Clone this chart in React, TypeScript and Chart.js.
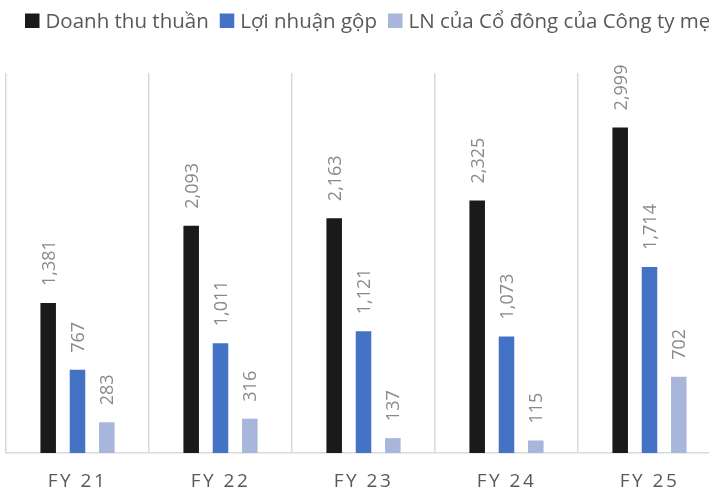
import React, { useEffect, useRef } from "react";
import { Chart, registerables } from "chart.js";

Chart.register(...registerables);

const categories = ["FY 21", "FY 22", "FY 23", "FY 24", "FY 25"];
const seriesNames = ["Doanh thu thuần", "Lợi nhuận gộp", "LN của Cổ đông của Công ty mẹ"];
const revenue = [1381, 2093, 2163, 2325, 2999];
const grossProfit = [767, 1011, 1121, 1073, 1714];
const netProfit = [283, 316, 137, 115, 702];
const seriesColors = ["#1a1a1a", "#4472C4", "#A9B6DB"];

const FONT = '"Open Sans", "Noto Sans", sans-serif';

const fmt = (v: number) => v.toLocaleString("en-US");

const customDraw = {
  id: "customDraw",
  afterDatasetsDraw(chart: any) {
    const ctx = chart.ctx;
    // data labels
    ctx.save();
    ctx.font = `18px ${FONT}`;
    ctx.fillStyle = "#8a8a8a";
    ctx.textAlign = "left";
    ctx.textBaseline = "alphabetic";
    chart.data.datasets.forEach((ds: any, di: number) => {
      const meta = chart.getDatasetMeta(di);
      meta.data.forEach((bar: any, i: number) => {
        ctx.save();
        ctx.translate(bar.x, bar.y - 17);
        ctx.rotate(-Math.PI / 2);
        ctx.fillText(fmt(ds.data[i]), 0, 6.4);
        ctx.restore();
      });
    });
    ctx.restore();
  },
  afterDraw(chart: any) {
    const ctx = chart.ctx;
    // x labels with letter spacing
    ctx.save();
    const xs = chart.scales.x;
    ctx.font = `19px ${FONT}`;
    (ctx as any).letterSpacing = "2.5px";
    ctx.fillStyle = "#595959";
    ctx.textAlign = "center";
    ctx.textBaseline = "alphabetic";
    categories.forEach((c, i) => {
      ctx.fillText(c, xs.getPixelForValue(i), 487);
    });
    ctx.restore();

    // legend
    ctx.save();
    ctx.font = `20.5px ${FONT}`;
    ctx.textAlign = "left";
    ctx.textBaseline = "alphabetic";
    let x = 25;
    chart.data.datasets.forEach((ds: any) => {
      ctx.fillStyle = ds.backgroundColor;
      ctx.fillRect(x, 13.5, 14.5, 14.5);
      x += 14.5 + 6;
      ctx.fillStyle = "#595959";
      ctx.fillText(ds.label, x, 28);
      x += ctx.measureText(ds.label).width + 11;
    });
    ctx.restore();
  },
};

export default function App() {
  const ref = useRef<HTMLCanvasElement | null>(null);

  useEffect(() => {
    if (!ref.current) return;
    const chart = new Chart(ref.current, {
      type: "bar",
      data: {
        labels: categories,
        datasets: [
          { label: seriesNames[0], data: revenue, backgroundColor: seriesColors[0] },
          { label: seriesNames[1], data: grossProfit, backgroundColor: seriesColors[1] },
          { label: seriesNames[2], data: netProfit, backgroundColor: seriesColors[2] },
        ],
      },
      options: {
        responsive: false,
        maintainAspectRatio: false,
        animation: false,
        layout: { padding: { left: 6, top: 73, right: 9, bottom: 38 } },
        datasets: {
          bar: { categoryPercentage: 0.615, barPercentage: 0.53 },
        },
        plugins: {
          legend: { display: false },
          tooltip: { enabled: false },
        },
        scales: {
          x: {
            offset: true,
            grid: { display: true, offset: true, color: "#d9d9d9", lineWidth: 1.5, drawTicks: false },
            border: { display: true, color: "#d9d9d9", width: 1.5 },
            ticks: { display: false },
          },
          y: {
            display: false,
            min: 0,
            max: 3500,
          },
        },
      },
      plugins: [customDraw],
    });
    return () => chart.destroy();
  }, []);

  return (
    <div
      style={{
        position: "fixed",
        left: 0,
        top: 0,
        width: 709,
        height: 491,
        overflow: "hidden",
        background: "#ffffff",
      }}
    >
      <canvas ref={ref} width={730} height={491} style={{ display: "block" }} />
    </div>
  );
}
